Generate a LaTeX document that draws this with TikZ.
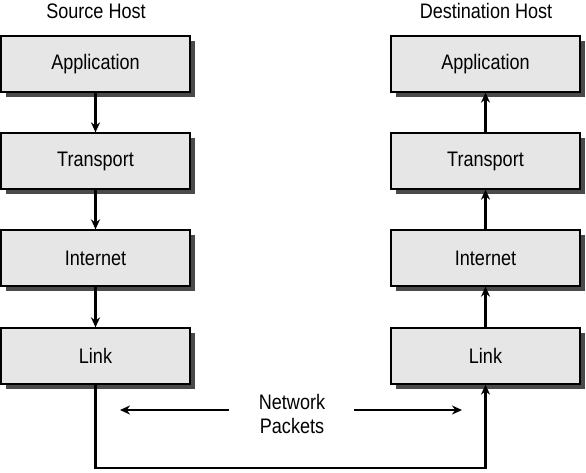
\documentclass[tikz,border=0pt]{standalone}
\usepackage{fontspec}
\setmainfont{Liberation Sans}[FakeStretch=0.86]
\usetikzlibrary{arrows.meta,shadows}
\begin{document}
\begin{tikzpicture}[x=1pt,y=-1pt,
  layer/.style={draw=black,line width=1.3pt,fill=boxgray,minimum width=189pt,minimum height=56pt,
    inner sep=0pt,font=\fontsize{21}{24}\selectfont,
    drop shadow={shadow xshift=5pt,shadow yshift=-5pt,fill=shadowgray,opacity=1}},
  title/.style={font=\fontsize{21}{24}\selectfont,inner sep=0pt},
  conn/.style={line width=2.2pt,-{Stealth[length=10pt,width=9pt]}}]
\definecolor{boxgray}{HTML}{E6E6E6}
\definecolor{shadowgray}{HTML}{4A4A4A}
\useasboundingbox (0,0) rectangle (586,472);
\node[title] (sh) at (96,11) {Source Host};
\node[title] (dh) at (486,11) {Destination Host};
\node[layer] (sa) at (95.5,64) {Application};
\node[layer] (st) at (95.5,161) {Transport};
\node[layer] (si) at (95.5,258) {Internet};
\node[layer] (sl) at (95.5,356) {Link};
\node[layer] (da) at (485.5,64) {Application};
\node[layer] (dt) at (485.5,161) {Transport};
\node[layer] (di) at (485.5,258) {Internet};
\node[layer] (dl) at (485.5,356) {Link};
\draw[conn] (sa) -- (st);
\draw[conn] (st) -- (si);
\draw[conn] (si) -- (sl);
\draw[conn] (dl) -- (di);
\draw[conn] (di) -- (dt);
\draw[conn] (dt) -- (da);
\coordinate (bl) at (95.5,468);
\coordinate (br) at (485.5,468);
\draw[conn] (sl.south) -- (bl) -- (br) -- (dl.south);
\node[title,align=center] (np) at (292,414) {Network\\Packets};
\coordinate (la) at (120,410);
\coordinate (ra) at (462,410);
\draw[conn] (229,410) coordinate (lt) -- (la);
\draw[conn] (354,410) coordinate (rt) -- (ra);
\end{tikzpicture}
\end{document}
